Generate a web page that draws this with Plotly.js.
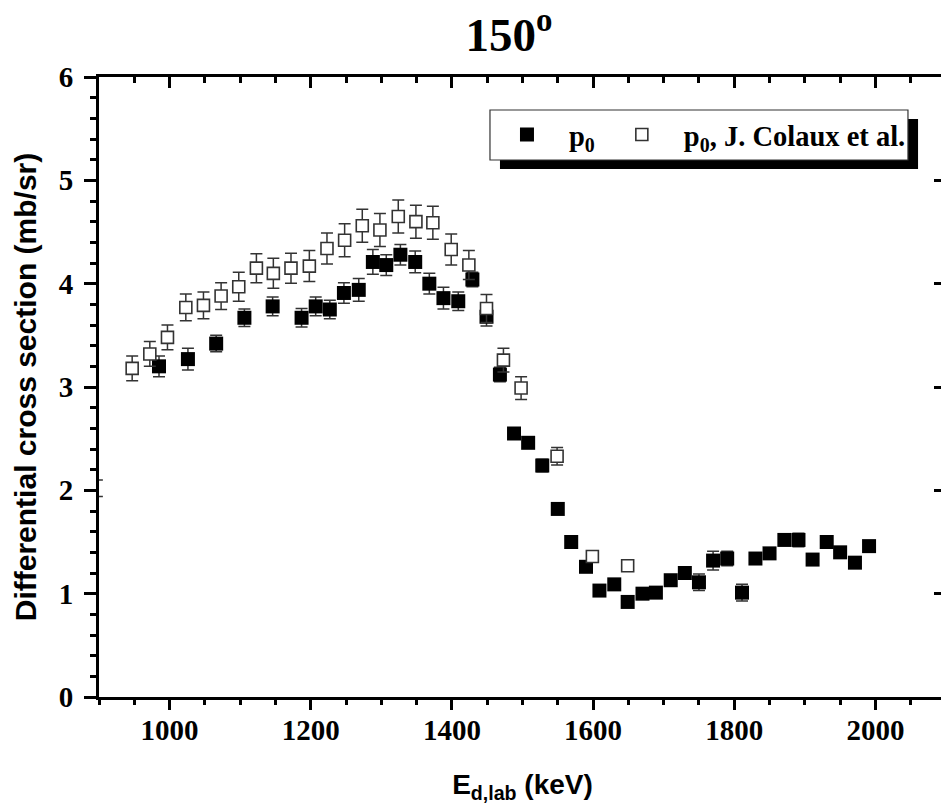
<!DOCTYPE html>
<html>
<head>
<meta charset="utf-8">
<script src="https://cdn.plot.ly/plotly-3.0.1.min.js"></script>
<style>
html,body{margin:0;padding:0;overflow:hidden;background:#fff;}
#chart{width:948px;height:809px;}
</style>
</head>
<body>
<div id="chart"></div>
<script>
// This work, p0
const energyThis = [985,1026,1066,1106,1146,1187,1207,1227,1247,1268,1288,1307,1327,1348,1368,1388,1409,1429,1449,1468,1488,1508,1528,1550,1569,1590,1609,1630,1649,1670,1689,1710,1730,1750,1770,1790,1811,1830,1850,1871,1891,1911,1931,1950,1971,1991];
const sigmaThis = [3.20,3.27,3.42,3.67,3.78,3.67,3.78,3.75,3.91,3.94,4.21,4.18,4.28,4.21,4.00,3.86,3.83,4.04,3.68,3.12,2.55,2.46,2.24,1.82,1.50,1.26,1.03,1.09,0.92,1.00,1.01,1.13,1.20,1.11,1.32,1.34,1.01,1.34,1.39,1.52,1.52,1.33,1.50,1.40,1.30,1.46];
const errThis = [0.10,0.105,0.08,0.085,0.09,0.09,0.09,0.09,0.10,0.11,0.12,0.10,0.10,0.105,0.10,0.105,0.09,0.07,0.09,0.07,0.04,0.04,0.06,0.04,0.04,0.04,0.04,0.04,0.04,0.04,0.04,0.04,0.04,0.08,0.09,0.07,0.08,0.04,0.04,0.05,0.065,0.04,0.04,0.04,0.04,0.04];

// J. Colaux et al., p0
const energyColaux = [897,947,972,997,1023,1048,1073,1098,1123,1147,1172,1198,1223,1248,1273,1298,1324,1349,1373,1399,1424,1449,1473,1498,1549,1599,1649];
const sigmaColaux = [2.02,3.18,3.32,3.48,3.77,3.79,3.88,3.97,4.15,4.10,4.15,4.17,4.34,4.42,4.56,4.52,4.65,4.60,4.59,4.33,4.18,3.76,3.26,2.99,2.33,1.36,1.27];
const errColaux = [0.08,0.12,0.12,0.12,0.13,0.13,0.13,0.14,0.14,0.145,0.145,0.15,0.15,0.16,0.16,0.16,0.16,0.16,0.16,0.15,0.14,0.135,0.115,0.11,0.085,0.04,0.04];

const legendThis = 'p<sub>0</sub>';
const legendColaux = 'p<sub>0</sub>, J. Colaux et al.';
const titleText = '150<sup>o</sup>';
const xTitle = 'E<sub>d,lab</sub> (keV)';
const yTitle = 'Differential cross section (mb/sr)';

const serif = 'Liberation Serif, Times New Roman, serif';
const sans = 'Liberation Sans, Arial, sans-serif';

const traces = [
  {
    x: energyThis, y: sigmaThis, name: legendThis, type: 'scatter', mode: 'markers',
    marker: {symbol: 'square', size: 14, color: '#000', line: {width: 0}},
    error_y: {type: 'data', array: errThis, visible: true, color: '#333', thickness: 1.5, width: 6},
    cliponaxis: false
  },
  {
    x: energyColaux, y: sigmaColaux, name: legendColaux, type: 'scatter', mode: 'markers',
    marker: {symbol: 'square', size: 12, color: '#fff', line: {width: 1.6, color: '#333'}},
    error_y: {type: 'data', array: errColaux, visible: true, color: '#333', thickness: 1.5, width: 6},
    cliponaxis: false
  },
  {x: [], y: [], xaxis: 'x2', yaxis: 'y2', showlegend: false, hoverinfo: 'skip', type: 'scatter', mode: 'markers'}
];

const tickFont = {family: serif, size: 29, weight: 'bold', color: '#000'};

const layout = {
  width: 948, height: 809,
  margin: {l: 99, r: 2, t: 77, b: 112},
  paper_bgcolor: '#fff', plot_bgcolor: '#fff',
  showlegend: true,
  title: {
    text: titleText, font: {family: serif, size: 47, weight: 'bold', color: '#000'},
    xref: 'container', x: 0.537, xanchor: 'center',
    yref: 'container', y: 0.957, yanchor: 'middle'
  },
  xaxis: {
    range: [900, 2100], tick0: 1000, dtick: 200,
    ticks: 'outside', ticklen: 10, tickwidth: 3, tickcolor: '#000',
    showline: true, linewidth: 3, linecolor: '#000',
    showgrid: false, zeroline: false,
    tickfont: tickFont, ticklabelstandoff: -5,
    minor: {dtick: 50, tick0: 900, ticks: 'outside', ticklen: 5, tickwidth: 3, tickcolor: '#000', showgrid: false},
    title: {text: xTitle, font: {family: sans, size: 28, weight: 'bold', color: '#000'}, standoff: 30},
    automargin: false
  },
  xaxis2: {
    overlaying: 'x', side: 'top', anchor: 'y',
    range: [900, 2100], tick0: 1000, dtick: 200,
    ticks: 'inside', ticklen: 11, tickwidth: 3, tickcolor: '#000',
    showline: true, linewidth: 3, linecolor: '#000',
    showgrid: false, zeroline: false, showticklabels: false,
    minor: {dtick: 50, tick0: 900, ticks: 'inside', ticklen: 6, tickwidth: 3, tickcolor: '#000', showgrid: false}
  },
  yaxis: {
    range: [0, 6], tick0: 0, dtick: 1,
    ticks: 'outside', ticklen: 12, tickwidth: 3, tickcolor: '#000',
    showline: true, linewidth: 3, linecolor: '#000',
    showgrid: false, zeroline: false,
    tickfont: tickFont, ticklabelstandoff: 5,
    minor: {dtick: 0.2, tick0: 0, ticks: 'outside', ticklen: 6, tickwidth: 3, tickcolor: '#000', showgrid: false},
    title: {text: yTitle, font: {family: sans, size: 30, weight: 'bold', color: '#000'}, standoff: 14},
    automargin: false
  },
  yaxis2: {
    overlaying: 'y', side: 'right', anchor: 'x',
    range: [0, 6], tick0: 0, dtick: 1,
    ticks: 'inside', ticklen: 12, tickwidth: 3, tickcolor: '#000',
    showline: true, linewidth: 3, linecolor: '#000',
    showgrid: false, zeroline: false, showticklabels: false,
    minor: {dtick: 0.2, tick0: 0, ticks: 'inside', ticklen: 5, tickwidth: 3, tickcolor: '#000', showgrid: false}
  },
  legend: {
    orientation: 'h', x: 0.4557, xanchor: 'left', y: 0.9065, yanchor: 'middle',
    bgcolor: 'rgba(0,0,0,0)', borderwidth: 0,
    font: {family: serif, size: 28.5, weight: 'bold', color: '#000'},
    itemwidth: 74
  },
  shapes: [
    {type: 'rect', xref: 'paper', yref: 'paper', x0: 0.4734, x1: 0.967, y0: 0.8516, y1: 0.9323,
     fillcolor: '#000', line: {width: 0}, layer: 'above'},
    {type: 'rect', xref: 'paper', yref: 'paper', x0: 0.4616, x1: 0.9551, y0: 0.8661, y1: 0.9468,
     fillcolor: '#fff', line: {width: 1.2, color: '#333'}, layer: 'above'}
  ]
};

Plotly.newPlot('chart', traces, layout, {displayModeBar: false, staticPlot: true});
</script>
</body>
</html>
